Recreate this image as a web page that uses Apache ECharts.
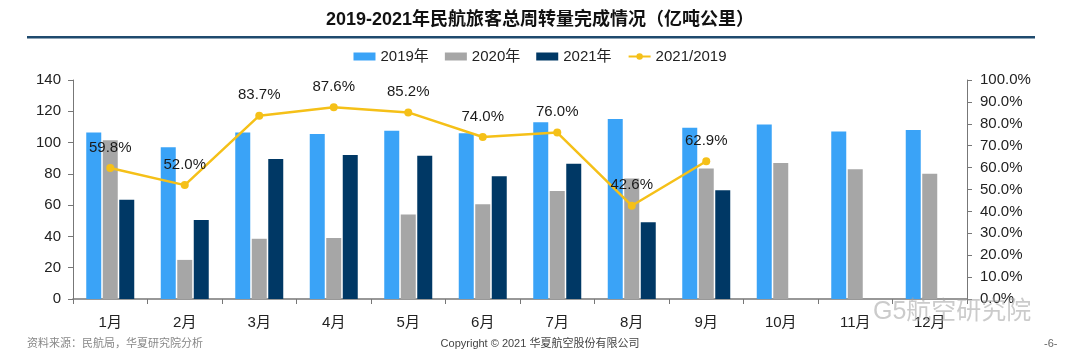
<!DOCTYPE html>
<html><head><meta charset="utf-8">
<script src="https://cdn.jsdelivr.net/npm/echarts@6/dist/echarts.min.js"></script>
<style>html,body{margin:0;padding:0;background:#fff}#c{width:1080px;height:360px}</style>
</head><body><div id="c"></div>
<script>
const months = ['1月','2月','3月','4月','5月','6月','7月','8月','9月','10月','11月','12月'];
const v2019 = [106.5, 97, 106.5, 105.5, 107.5, 106, 113, 115, 109.5, 111.5, 107, 108];
const v2020 = [101.5, 25, 38.5, 39, 54, 60.5, 69, 77, 83.5, 87, 83, 80];
const v2021 = [63.5, 50.5, 89.5, 92, 91.5, 78.5, 86.5, 49, 69.5];
const ratio = [59.8, 52.0, 83.7, 87.6, 85.2, 74.0, 76.0, 42.6, 62.9];
const seriesNames = ['2019年','2020年','2021年','2021/2019'];

const FF = 'Liberation Sans, Arial, Noto Sans CJK SC, sans-serif';
const chart = echarts.init(document.getElementById('c'), null, {renderer:'canvas'});
chart.setOption({
  animation:false,
  textStyle:{fontFamily:FF},
  title:{text:'2019-2021年民航旅客总周转量完成情况（亿吨公里）',left:'center',top:6,
    textStyle:{fontFamily:FF,fontSize:18,fontWeight:'bold',color:'#111'}},
  legend:{top:44,left:'center',itemWidth:22,itemHeight:8,itemGap:16,
    textStyle:{fontSize:15,color:'#222',fontFamily:FF},
    data:[{name:seriesNames[0],icon:'rect'},{name:seriesNames[1],icon:'rect'},{name:seriesNames[2],icon:'rect'},{name:seriesNames[3]}]},
  grid:{left:73,right:113,top:80,bottom:61},
  xAxis:{type:'category',data:months,
    axisLine:{lineStyle:{color:'#777',width:1.5}},
    axisTick:{show:true,length:5,lineStyle:{color:'#777'}},
    axisLabel:{fontSize:15,color:'#222',margin:16,fontFamily:FF}},
  yAxis:[
    {type:'value',min:0,max:140,interval:20,splitLine:{show:false},
     axisLine:{show:true,lineStyle:{color:'#777'}},
     axisTick:{show:true,length:5,lineStyle:{color:'#777'}},
     axisLabel:{fontSize:15,color:'#222',margin:12,fontFamily:FF}},
    {type:'value',min:0,max:100,interval:10,splitLine:{show:false},
     axisLine:{show:true,lineStyle:{color:'#777'}},
     axisTick:{show:true,length:5,lineStyle:{color:'#777'}},
     axisLabel:{fontSize:15,color:'#222',margin:13,fontFamily:FF,formatter:v=>v.toFixed(1)+'%'}}
  ],
  series:[
    {name:seriesNames[0],type:'bar',data:v2019,barWidth:15,barGap:'10%',itemStyle:{color:'#3AA3F7'}},
    {name:seriesNames[1],type:'bar',data:v2020,barWidth:15,barGap:'10%',itemStyle:{color:'#A6A6A6'}},
    {name:seriesNames[2],type:'bar',data:v2021,barWidth:15,barGap:'10%',itemStyle:{color:'#003865'}},
    {name:seriesNames[3],type:'line',yAxisIndex:1,data:ratio,symbol:'circle',symbolSize:8,
     lineStyle:{color:'#F5C018',width:2.5},itemStyle:{color:'#F5C018'},
     label:{show:true,position:'top',distance:9,fontSize:15,color:'#1a1a1a',fontFamily:FF,formatter:p=>p.value.toFixed(1)+'%'}}
  ],
  graphic:[
    {type:'rect',shape:{x:27,y:36,width:1008,height:2.5},style:{fill:'#1F4A6E'}},
    {type:'text',left:27,top:338,style:{text:'资料来源：民航局，华夏研究院分析',fontSize:11,fill:'#888',fontFamily:FF}},
    {type:'text',left:'center',top:338,style:{text:'Copyright © 2021 华夏航空股份有限公司',fontSize:11,fill:'#444',fontFamily:FF}},
    {type:'text',left:1044,top:338,style:{text:'-6-',fontSize:11,fill:'#666',fontFamily:FF}},
    {type:'text',left:873,top:300,z:100,style:{text:'G5航空研究院',fontSize:25,fill:'rgba(160,160,160,0.55)',fontFamily:FF}}
  ]
});
</script></body></html>
